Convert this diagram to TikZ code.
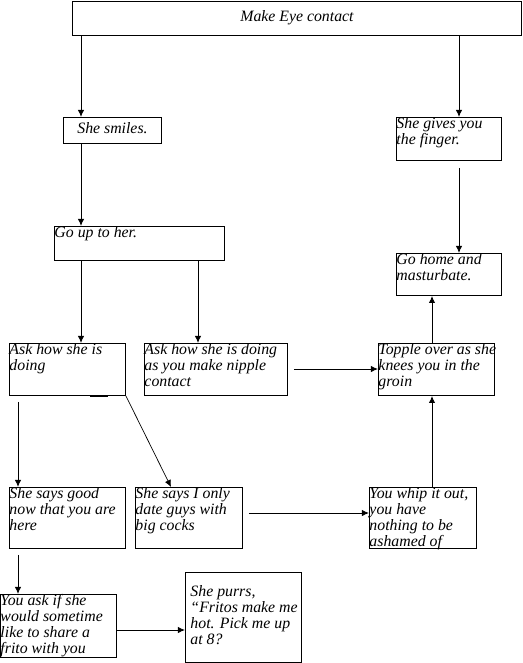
\documentclass[tikz,border=0pt]{standalone}
\usepackage{fontspec}
\setmainfont{Liberation Serif}
\usetikzlibrary{arrows.meta}
\newlength{\pxu}\setlength{\pxu}{0.02cm}
\tikzset{
  chart box/.style={draw, line width=0.55pt, inner sep=0pt, anchor=north west,
    font=\fontsize{9}{9.1}\selectfont\itshape},
  flow/.style={line width=0.5pt, -{Latex[length=4pt,width=3.6pt]}}
}
% [halign] name x y w h valign text
\newcommand{\flowbox}[7][\raggedright]{%
  \node[chart box] (#2) at (#3,#4) {\begin{minipage}[t][#6\pxu][#7]{#5\pxu}#1%
    \begin{tabular}{@{}l@{}}\flowtext\end{tabular}\end{minipage}};}
\newcommand{\settext}[1]{\def\flowtext{#1}}

\begin{document}
\begin{tikzpicture}[x=0.02cm,y=-0.02cm]
  \useasboundingbox (0,0) rectangle (523,663);
  % boxes
  \settext{Make Eye contact}\flowbox[\centering]{eye}{72}{1}{449}{34}{c}
  \settext{She smiles.}\flowbox[\centering]{smiles}{63}{117}{98}{26}{c}
  \settext{She gives you\\the finger.}\flowbox{finger}{396}{117}{105}{43}{t}
  \settext{Go up to her.}\flowbox{goup}{54}{226}{170}{34}{t}
  \settext{Go home and\\masturbate.}\flowbox{home}{396}{253}{105}{42}{t}
  \settext{Ask how she is\\doing}\flowbox{ask}{9}{343}{116}{52}{t}
  \settext{Ask how she is doing\\as you make nipple\\contact}\flowbox{nipple}{144}{343}{143}{52}{t}
  \settext{Topple over as she\\knees you in the\\groin}\flowbox{topple}{378}{343}{116}{52}{t}
  \settext{She says good\\now that you are\\here}\flowbox{good}{9}{487}{116}{61}{t}
  \settext{She says I only\\date guys with\\big cocks}\flowbox{onlydate}{135}{487}{107}{61}{t}
  \settext{You whip it out,\\you have\\nothing to be\\ashamed of}\flowbox{whip}{369}{487}{107}{61}{t}
  \settext{You ask if she\\would sometime\\like to share a\\frito with you}\flowbox{youask}{0}{594}{116}{63}{t}
  \settext{She purrs,\\“Fritos make me\\hot. Pick me up\\at 8?}\flowbox[\hspace*{5\pxu}]{purrs}{185}{572}{116}{90}{c}
  % columns and rows for the connectors
  \coordinate (cA) at (81,0);
  \coordinate (cB) at (198,0);
  \coordinate (cD) at (171,0);
  \coordinate (cF) at (459,0);
  \coordinate (cS) at (18,0);
  \coordinate (cT) at (432,0);
  \coordinate (rN) at (0,369);
  \coordinate (rW) at (0,513);
  \coordinate (rP) at (0,630);
  % connectors
  \draw[flow] (eye.south -| cA) -- (smiles.north -| cA);
  \draw[flow] (eye.south -| cF) -- (finger.north -| cF);
  \draw[flow] (smiles.south -| cA) -- (goup.north -| cA);
  \draw[flow,shorten <=7\pxu] (finger.south -| cF) -- (home.north -| cF);
  \draw[flow] (goup.south -| cA) -- (ask.north -| cA);
  \draw[flow] (goup.south -| cB) -- (nipple.north -| cB);
  \draw[flow,shorten <=6\pxu] (nipple.east |- rN) -- (topple.west |- rN);
  \draw[flow] (topple.north -| cT) -- (home.south -| cT);
  \draw[flow] (whip.north -| cT) -- (topple.south -| cT);
  \draw[flow,shorten <=6\pxu] (ask.south -| cS) -- (good.north -| cS);
  \draw[flow,line width=0.4pt] (ask.south east) -- (onlydate.north -| cD);
  \draw[flow,shorten <=6\pxu] (onlydate.east |- rW) -- (whip.west |- rW);
  \draw[flow,shorten <=6\pxu] (good.south -| cS) -- (youask.north -| cS);
  \draw[flow] (youask.east |- rP) -- (purrs.west |- rP);
  \draw[line width=1pt] (90,396) -- (108,396);
\end{tikzpicture}
\end{document}
